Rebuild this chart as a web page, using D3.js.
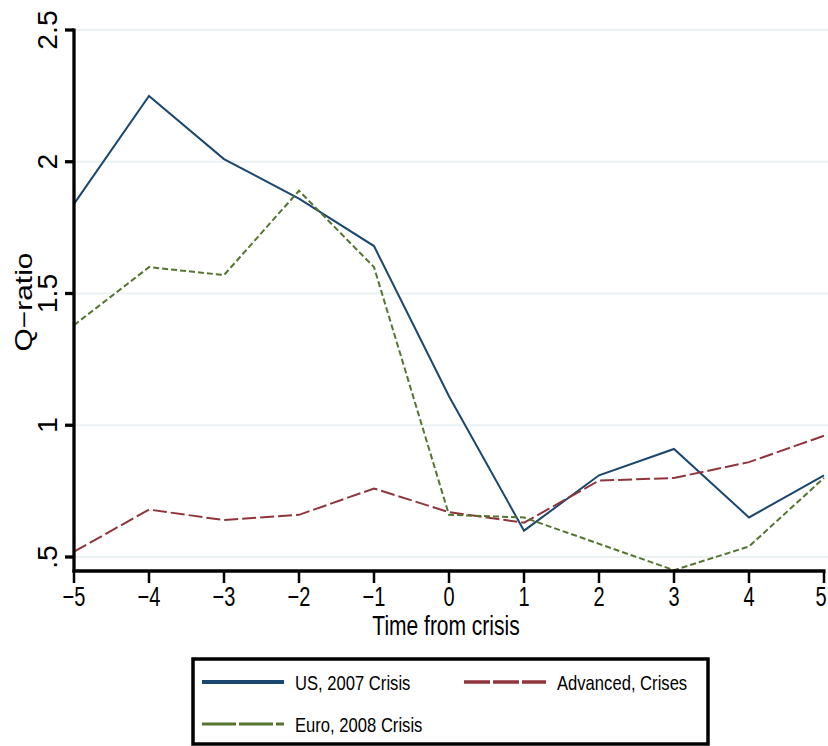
<!DOCTYPE html>
<html>
<head>
<meta charset="utf-8">
<script src="https://cdn.jsdelivr.net/npm/d3@7"></script>
<style>
  html, body { margin: 0; padding: 0; background: #ffffff; }
  svg { display: block; }
  text { font-family: "Liberation Sans", Arial, Helvetica, sans-serif; fill: #000; }
</style>
</head>
<body>
<svg id="chart" width="828" height="746"></svg>
<script>
// ---- data ----
const years = [-5, -4, -3, -2, -1, 0, 1, 2, 3, 4, 5];
const usCrisis = [1.84, 2.25, 2.01, 1.86, 1.68, 1.11, 0.60, 0.81, 0.91, 0.65, 0.81];
const advancedCrises = [0.52, 0.68, 0.64, 0.66, 0.76, 0.67, 0.63, 0.79, 0.80, 0.86, 0.96];
const euroCrisis = [1.38, 1.60, 1.57, 1.89, 1.60, 0.66, 0.65, 0.55, 0.45, 0.54, 0.80];
const yTicks = [0.5, 1, 1.5, 2, 2.5];
const yTickLabels = [".5", "1", "1.5", "2", "2.5"];
const xTicks = [-5, -4, -3, -2, -1, 0, 1, 2, 3, 4, 5];
const seriesNames = ["US, 2007 Crisis", "Advanced, Crises", "Euro, 2008 Crisis"];

const svg = d3.select("#chart");
const x = d3.scaleLinear().domain([-5, 5]).range([74, 824]);
const y = d3.scaleLinear().domain([0.5, 2.5]).range([557, 30]);
const xAxisY = 571;

// gridlines
svg.append("g").selectAll("line").data(yTicks).join("line")
  .attr("x1", 74).attr("x2", 828)
  .attr("y1", d => y(d)).attr("y2", d => y(d))
  .attr("stroke", "#eaf2f3").attr("stroke-width", 2.2);

// series
const line = d3.line().x((d, i) => x(years[i])).y(d => y(d));
const series = [
  { vals: usCrisis, color: "#1a476f", dash: null, w: 2 },
  { vals: advancedCrises, color: "#90353b", dash: "14,4", w: 2 },
  { vals: euroCrisis, color: "#55752f", dash: "6,3", w: 2 }
];
series.forEach(s => {
  svg.append("path").datum(s.vals)
    .attr("d", line)
    .attr("fill", "none")
    .attr("stroke", s.color)
    .attr("stroke-width", s.w)
    .attr("stroke-dasharray", s.dash)
    .attr("stroke-linejoin", "miter");
});

// y axis
const yAxis = svg.append("g");
yAxis.append("line").attr("x1", 74).attr("x2", 74).attr("y1", y(2.5) - 1.5).attr("y2", xAxisY + 1.5)
  .attr("stroke", "#000").attr("stroke-width", 3.3);
yAxis.selectAll(".yt").data(yTicks).join("line")
  .attr("x1", 65).attr("x2", 74)
  .attr("y1", d => y(d)).attr("y2", d => y(d))
  .attr("stroke", "#000").attr("stroke-width", 3.3);
yAxis.selectAll("text").data(yTicks).join("text")
  .attr("transform", d => `translate(57,${y(d)}) rotate(-90) scale(1.05,1)`)
  .attr("text-anchor", "middle")
  .attr("font-size", 27)
  .text((d, i) => yTickLabels[i]);

// y title
svg.append("text")
  .attr("transform", "translate(32,302) rotate(-90) scale(1.3,1)")
  .attr("text-anchor", "middle")
  .attr("font-size", 23)
  .text("Q\u2212ratio");

// x axis
const xAxis = svg.append("g");
xAxis.append("line").attr("x1", 74 - 1.5).attr("x2", 824 + 1.5).attr("y1", xAxisY).attr("y2", xAxisY)
  .attr("stroke", "#000").attr("stroke-width", 3.5);
xAxis.selectAll(".xt").data(xTicks).join("line")
  .attr("x1", d => x(d)).attr("x2", d => x(d))
  .attr("y1", xAxisY).attr("y2", 583)
  .attr("stroke", "#000").attr("stroke-width", 2.5);
const fmt = d3.format("d");
xAxis.selectAll("text").data(xTicks).join("text")
  .attr("transform", d => `translate(${Math.min(x(d), 821)},606) scale(1,1.4)`)
  .attr("text-anchor", "middle")
  .attr("font-size", 20)
  .text(d => fmt(d));

// x title
svg.append("text")
  .attr("transform", "translate(446,635) scale(1,1.35)")
  .attr("text-anchor", "middle")
  .attr("font-size", 21)
  .text("Time from crisis");

// legend
const lg = svg.append("g");
lg.append("rect").attr("x", 193).attr("y", 659).attr("width", 515).attr("height", 85)
  .attr("fill", "#fff").attr("stroke", "#000").attr("stroke-width", 3.5);
const legendItems = [
  { name: seriesNames[0], color: "#1a476f", dash: null, w: 4, lx: 202, ly: 682 },
  { name: seriesNames[1], color: "#90353b", dash: "26,3", w: 3.5, lx: 464, ly: 682 },
  { name: seriesNames[2], color: "#55752f", dash: "34,3", w: 3, lx: 202, ly: 724 }
];
legendItems.forEach(it => {
  lg.append("line")
    .attr("x1", it.lx).attr("x2", it.lx + 82)
    .attr("y1", it.ly).attr("y2", it.ly)
    .attr("stroke", it.color).attr("stroke-width", it.w)
    .attr("stroke-dasharray", it.dash);
  lg.append("text")
    .attr("transform", `translate(${it.lx + 93},${it.ly + 7.5}) scale(0.95,1.2)`)
    .attr("font-size", 17.5)
    .text(it.name);
});
</script>
</body>
</html>
